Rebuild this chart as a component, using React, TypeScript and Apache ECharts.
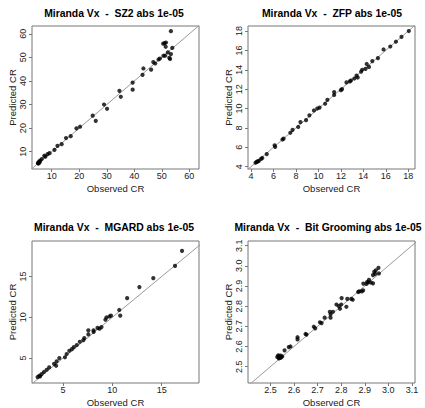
import React, { useEffect, useRef } from "react";
import * as echarts from "echarts";

// ---- Data ----
const sz2Obs = [53.3, 50.5, 51.0, 51.5, 51.4, 53.8, 53.3, 52.2, 50.6, 51.2, 52.7, 49.3, 48.8, 53.0, 46.9, 47.6, 43.3, 46.1, 43.0, 39.4, 39.4, 34.6, 35.1, 29.0, 30.1, 24.9, 26.0, 20.3, 19.0, 16.9, 15.2, 13.6, 12.1, 11.0, 9.2, 8.5, 7.3, 7.7, 6.4, 5.8, 5.4, 5.1, 5.0, 5.2, 5.6];
const sz2Pred = [61.1, 55.8, 56.0, 56.3, 54.5, 54.0, 51.4, 52.1, 50.7, 50.7, 49.8, 49.5, 49.1, 49.3, 48.0, 47.4, 45.3, 44.8, 42.6, 39.3, 36.3, 35.8, 33.3, 30.0, 28.2, 25.3, 23.1, 20.6, 19.9, 16.6, 15.8, 13.2, 12.5, 10.8, 9.4, 9.0, 8.3, 7.9, 6.9, 6.2, 5.8, 5.3, 5.1, 5.0, 5.5];

const zfpObs = [4.4, 4.5, 4.6, 4.7, 4.9, 5.0, 5.4, 6.1, 6.15, 6.8, 6.9, 7.5, 7.7, 8.2, 8.4, 8.9, 9.2, 9.6, 9.9, 10.1, 10.6, 10.8, 11.4, 11.4, 12.0, 12.1, 12.5, 12.8, 12.9, 13.2, 13.4, 13.5, 13.8, 13.9, 14.2, 14.3, 14.5, 14.8, 15.3, 15.8, 16.4, 16.9, 17.4, 18.05];
const zfpPred = [4.4, 4.5, 4.55, 4.6, 4.8, 4.9, 5.3, 6.2, 6.05, 6.8, 6.9, 7.5, 7.8, 8.1, 8.6, 8.8, 9.3, 9.8, 10.0, 10.1, 10.5, 10.9, 11.4, 11.7, 11.9, 12.0, 12.7, 12.8, 12.9, 13.1, 13.4, 13.2, 13.8, 14.0, 14.1, 14.6, 14.3, 14.9, 15.2, 16.1, 16.4, 16.9, 17.4, 18.0];

const mgardObs = [17.06, 16.35, 14.15, 12.74, 11.5, 10.7, 10.8, 9.86, 9.7, 9.4, 9.3, 8.9, 8.5, 8.7, 8.1, 8.1, 7.57, 7.57, 7.16, 7.06, 6.7, 6.4, 6.1, 5.9, 5.64, 5.37, 5.2, 4.63, 4.36, 4.3, 4.1, 3.6, 3.35, 3.07, 2.84, 2.6, 2.43, 2.67];
const mgardPred = [18.14, 16.3, 14.8, 13.7, 12.35, 10.9, 10.2, 10.2, 10.1, 9.98, 9.7, 8.8, 8.7, 8.6, 8.4, 8.2, 8.4, 7.9, 7.45, 7.2, 7.0, 6.6, 6.35, 6.1, 5.9, 5.5, 5.1, 5.0, 4.6, 4.06, 4.3, 3.86, 3.57, 3.3, 3.04, 2.84, 2.67, 2.76];

const bgObs = [2.958, 2.947, 2.94, 2.944, 2.96, 2.935, 2.918, 2.91, 2.915, 2.935, 2.926, 2.907, 2.894, 2.893, 2.887, 2.872, 2.876, 2.843, 2.849, 2.826, 2.802, 2.822, 2.79, 2.80, 2.78, 2.795, 2.765, 2.752, 2.755, 2.755, 2.73, 2.71, 2.717, 2.684, 2.69, 2.649, 2.653, 2.615, 2.615, 2.585, 2.578, 2.56, 2.543, 2.536, 2.529, 2.546, 2.536, 2.55, 2.543, 2.533, 2.536];
const bgPred = [2.99, 2.978, 2.97, 2.96, 2.962, 2.954, 2.93, 2.92, 2.918, 2.913, 2.917, 2.91, 2.912, 2.878, 2.873, 2.87, 2.873, 2.836, 2.832, 2.836, 2.84, 2.797, 2.80, 2.808, 2.808, 2.787, 2.772, 2.772, 2.76, 2.743, 2.743, 2.72, 2.716, 2.698, 2.69, 2.662, 2.659, 2.646, 2.635, 2.6, 2.597, 2.581, 2.555, 2.551, 2.548, 2.548, 2.545, 2.551, 2.543, 2.556, 2.541];

const titles = [
  "Miranda Vx  -  SZ2 abs 1e-05",
  "Miranda Vx  -  ZFP abs 1e-05",
  "Miranda Vx  -  MGARD abs 1e-05",
  "Miranda Vx  -  Bit Grooming abs 1e-05",
];
const sz2Ticks = [10, 20, 30, 40, 50, 60];
const zfpTicks = [4, 6, 8, 10, 12, 14, 16, 18];
const mgardTicks = [5, 10, 15];
const bgTicks = [2.5, 2.6, 2.7, 2.8, 2.9, 3.0, 3.1];
const xTitle = "Observed CR";
const yTitle = "Predicted CR";

const FONT = "'Liberation Sans', Arial, Helvetica, sans-serif";

export default function App() {
  const ref = useRef<HTMLDivElement>(null);
  useEffect(() => {
    if (!ref.current) return;
    const chart = echarts.init(ref.current, undefined, { renderer: "svg" });

    const panels = [
      { obs: sz2Obs, pred: sz2Pred, ticks: sz2Ticks, xr: [2.84, 63.5], yr: [2.67, 63.3], dec: 0, left: 32, top: 26, cx: 114, ty: 13 },
      { obs: zfpObs, pred: zfpPred, ticks: zfpTicks, xr: [3.73, 18.6], yr: [3.76, 18.52], dec: 0, left: 248, top: 26, cx: 332, ty: 13 },
      { obs: mgardObs, pred: mgardPred, ticks: mgardTicks, xr: [1.86, 18.78], yr: [1.95, 19.35], dec: 0, left: 32, top: 241, cx: 114, ty: 227 },
      { obs: bgObs, pred: bgPred, ticks: bgTicks, xr: [2.405, 3.113], yr: [2.419, 3.123], dec: 1, left: 248, top: 241, cx: 328, ty: 227 },
    ];

    const boxColor = "#777";
    const textColor = "#222";

    const grid = panels.map((p) => ({
      left: p.left,
      top: p.top,
      width: 167,
      height: 143,
      show: true,
      borderColor: boxColor,
      borderWidth: 1,
      backgroundColor: "transparent",
      containLabel: false,
    }));

    const xAxis = panels.map((p, i) => ({
      type: "value",
      gridIndex: i,
      min: p.xr[0],
      max: p.xr[1],
      name: xTitle,
      nameLocation: "middle",
      nameGap: 14,
      nameTextStyle: { fontFamily: FONT, fontSize: 9.5, color: textColor },
      axisLine: { show: false },
      splitLine: { show: false },
      axisTick: { show: true, inside: false, length: 3, customValues: p.ticks, lineStyle: { color: boxColor } },
      axisLabel: {
        show: true,
        customValues: p.ticks,
        margin: 2,
        fontFamily: FONT,
        fontSize: 9,
        color: textColor,
        formatter: (v: number) => v.toFixed(p.dec),
      },
    }));

    const yAxis = panels.map((p, i) => ({
      type: "value",
      gridIndex: i,
      min: p.yr[0],
      max: p.yr[1],
      name: yTitle,
      nameLocation: "middle",
      nameGap: 12,
      nameTextStyle: { fontFamily: FONT, fontSize: 9.5, color: textColor },
      axisLine: { show: false },
      splitLine: { show: false },
      axisTick: { show: true, inside: false, length: 3, customValues: p.ticks, lineStyle: { color: boxColor } },
      axisLabel: {
        show: true,
        rotate: 90,
        customValues: p.ticks,
        margin: 5,
        fontFamily: FONT,
        fontSize: 9,
        color: textColor,
        formatter: (v: number) => v.toFixed(p.dec),
      },
    }));

    const series: any[] = [];
    panels.forEach((p, i) => {
      series.push({
        type: "line",
        xAxisIndex: i,
        yAxisIndex: i,
        data: [[-100, -100], [100, 100]],
        showSymbol: false,
        symbol: "none",
        clip: true,
        lineStyle: { color: "#999", width: 1 },
        silent: true,
        z: 1,
      });
      series.push({
        type: "scatter",
        xAxisIndex: i,
        yAxisIndex: i,
        data: p.obs.map((o, k) => [o, p.pred[k]]),
        symbol: "circle",
        symbolSize: 4.2,
        itemStyle: { color: "#000" },
        clip: false,
        z: 2,
      });
    });

    const graphic = panels.map((p, i) => ({
      type: "text",
      x: p.cx,
      y: p.ty,
      style: {
        text: titles[i],
        fontFamily: FONT,
        fontSize: 10.4,
        fontWeight: "bold",
        fill: "#000",
        align: "center",
        verticalAlign: "middle",
      },
    }));

    chart.setOption({
      animation: false,
      backgroundColor: "#fff",
      grid,
      xAxis,
      yAxis,
      series,
      graphic,
    });
    return () => chart.dispose();
  }, []);

  return (
    <div
      ref={ref}
      style={{ position: "fixed", left: 0, top: 0, width: 425, height: 408 }}
    />
  );
}
